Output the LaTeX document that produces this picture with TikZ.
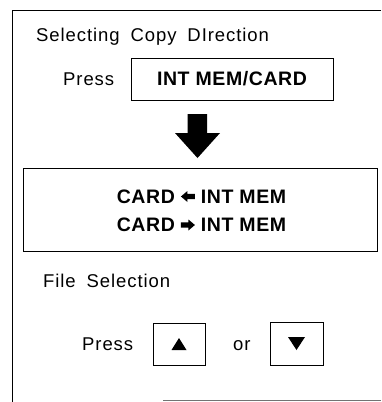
\documentclass[tikz,border=0pt]{standalone}
\usepackage{fontspec}
\usetikzlibrary{calc}
\setmainfont{Liberation Sans}
\newfontfamily\regsp[LetterSpace=5,WordSpace=1.8]{Liberation Sans}
\newfontfamily\boldsp[LetterSpace=3]{Liberation Sans Bold}
\newcommand{\fatleft}{\tikz[baseline=0pt,x=1pt,y=1pt]\fill (0,6.5) -- (6.5,12) -- (6.5,9.2) -- (14,9.2) -- (14,3.8) -- (6.5,3.8) -- (6.5,1) -- cycle;}
\newcommand{\fatright}{\tikz[baseline=0pt,x=1pt,y=1pt]\fill (14,6.5) -- (7.5,12) -- (7.5,9.2) -- (0,9.2) -- (0,3.8) -- (7.5,3.8) -- (7.5,1) -- cycle;}
\begin{document}
\begin{tikzpicture}[x=1pt,y=-1pt,
  reg/.style={inner sep=0pt,anchor=base west,font=\regsp\fontsize{18.5}{20}\selectfont},
  boldtxt/.style={inner sep=0pt,font=\boldsp\fontsize{19.5}{22}\selectfont,text height=14pt,text depth=0pt},
  keybox/.style={draw,line width=1pt,inner sep=0pt},
  frame/.style={line width=1pt}]
\useasboundingbox (0,0) rectangle (381,402);
% outer frame
\draw[frame] (381,10) -- (12.5,10) -- (12.5,402);
\draw[line width=0.8pt,black!55] (163,400.5) -- (381,400.5);
% top section
\node[reg] (title) at (36,41) {Selecting Copy DIrection};
\node[reg] (press1) at (63,85) {Press};
\node[keybox,minimum width=202pt,minimum height=42pt] (intbox) at (232,79) {};
\node[boldtxt] (inttxt) at (232,78) {INT MEM/CARD};
% big down arrow
\fill (187.5,114) -- (207,114) -- (207,133) -- (220,133) -- (197.5,158) -- (175,133) -- (187.5,133) -- cycle;
% selection box
\node[keybox,minimum width=354.5pt,minimum height=83.5pt] (bigbox) at (200.7,209.8) {};
\node[boldtxt] (line1) at (201.5,196) {CARD \fatleft\ INT MEM};
\node[boldtxt] (line2) at (201.5,224.5) {CARD \fatright\ INT MEM};
% file selection
\node[reg] (filesel) at (43,287) {File Selection};
\node[reg] (press2) at (82,350) {Press};
\node[keybox,minimum width=52pt,minimum height=42pt] (upbox) at (179,344) {};
\fill ($(upbox.center)+(-7.5,6)$) -- ++(15,0) -- ($(upbox.center)+(0,-6)$) -- cycle;
\node[reg] (or) at (233,350) {or};
\node[keybox,minimum width=53pt,minimum height=43pt] (downbox) at (296.5,343.5) {};
\fill ($(downbox.center)+(-8.5,-6.5)$) -- ++(17,0) -- ($(downbox.center)+(0,6.5)$) -- cycle;
\end{tikzpicture}
\end{document}
